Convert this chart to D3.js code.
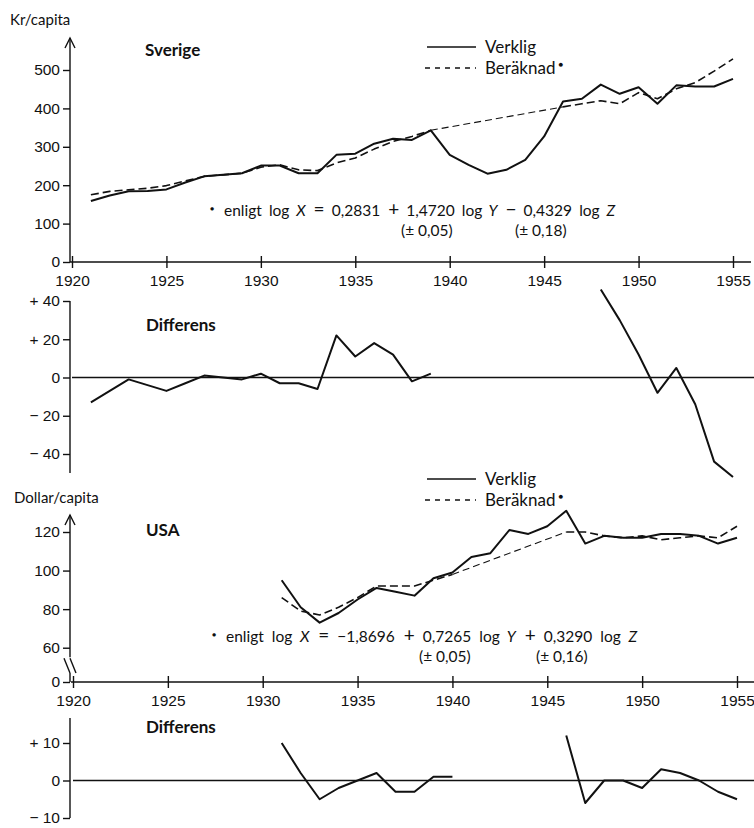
<!DOCTYPE html>
<html>
<head>
<meta charset="utf-8">
<script src="https://cdn.jsdelivr.net/npm/d3@7"></script>
<style>
  body { margin: 0; background: #fff; }
  svg { font-family: Lato, "Open Sans", sans-serif; }
  .axis text { font-size: 15.5px; fill: #111; }
  .axis line { stroke: #111; stroke-width: 1.4; }
</style>
</head>
<body>
<svg width="754" height="828"></svg>
<script>
// Data
const years = [1921, 1922, 1923, 1924, 1925, 1926, 1927, 1928, 1929, 1930, 1931, 1932,
  1933, 1934, 1935, 1936, 1937, 1938, 1939, 1940, 1941, 1942, 1943, 1944, 1945, 1946,
  1947, 1948, 1949, 1950, 1951, 1952, 1953, 1954, 1955];
const sverigeVerklig = [159, 173, 184, 185, 189, 207, 223, 227, 231, 251, 251, 231,
  231, 279, 282, 308, 321, 318, 343, 279, 253, 230, 240, 266, 327, 418,
  425, 462, 438, 455, 412, 460, 457, 457, 477];
const sverigeBeraknad = [175, 184, 188, 192, 199, 211, 223, 227, 231, 247, 253, 240,
  238, 258, 271, 294, 314, 327, 343, null, null, null, null, null, null, 404,
  412, 420, 412, 441, 425, 451, 467, 497, 529];
const sverigeDiff = [-13, -7, -1, -4, -7, -3, 1, 0, -1, 2, -3, -3,
  -6, 22, 11, 18, 12, -2, 2, null, null, null, null, null, null, null,
  null, 46, 30, 12, -8, 5, -14, -44, -52];

const usaYears = [1931, 1932, 1933, 1934, 1935, 1936, 1937, 1938, 1939, 1940, 1941, 1942,
  1943, 1944, 1945, 1946, 1947, 1948, 1949, 1950, 1951, 1952, 1953, 1954, 1955];
const usaVerklig = [95, 81, 73, 78, 85, 91, 89, 87, 96, 99, 107, 109,
  121, 119, 123, 131, 114, 118, 117, 117, 119, 119, 118, 114, 117];
const usaBeraknad = [86, 79, 77, 81, 86, 92, 92, 92, 95, 98, null, null,
  null, null, null, 120, 120, 118, 117, 118, 116, 117, 118, 117, 123];
const usaDiff = [10, 2, -5, -2, 0, 2, -3, -3, 1, 1, null, null,
  null, null, null, 12, -6, 0, 0, -2, 3, 2, 0, -3, -5];

const yearTicks = [1920, 1925, 1930, 1935, 1940, 1945, 1950, 1955];
const sverigeTicks = [0, 100, 200, 300, 400, 500];
const sverigeDiffTicks = [-40, -20, 0, 20, 40];
const usaTicks = [0, 60, 80, 100, 120];
const usaDiffTicks = [-10, 0, 10];

const ink = "#111";
let svg = d3.select("svg");

// scales
let xSve = d3.scaleLinear().domain([1920, 1955]).range([72, 733]);
let ySve = d3.scaleLinear().domain([0, 500]).range([262, 70]);
let yDiffSve = d3.scaleLinear().domain([-40, 40]).range([454, 301]);
let xUsa = d3.scaleLinear().domain([1920, 1955]).range([73, 737]);
// broken axis: 0 sits just under the 50 mark
let yUsa = d3.scaleLinear().domain([0, 50, 120]).range([682, 667, 532]);
let yDiffUsa = d3.scaleLinear().domain([-10, 10]).range([818, 743]);

function pairs(xs, vs) {
  return xs.map(function(x, i) { return { x: x, v: vs[i] }; });
}

function signed(d) {
  if (d > 0) return "+ " + d;
  if (d < 0) return "\u2212 " + Math.abs(d);
  return "0";
}

function xAxis(x, y0) {
  let g = svg.append("g")
    .attr("class", "axis")
    .attr("transform", "translate(0," + y0 + ")")
    .call(d3.axisBottom(x).tickValues(yearTicks).tickFormat(d3.format("d")).tickSize(6).tickPadding(7));
  g.select(".domain").remove();
  g.selectAll(".tick line").attr("y1", -6);
  g.append("line")
    .attr("x1", x.range()[0] - 2)
    .attr("x2", x.range()[1] + 18)
    .attr("stroke", ink)
    .attr("stroke-width", 1.6);
}

function yAxis(y, ticks, fmt, top, bottom) {
  let g = svg.append("g")
    .attr("class", "axis")
    .attr("transform", "translate(70,0)")
    .call(d3.axisLeft(y).tickValues(ticks).tickFormat(fmt).tickSize(7).tickPadding(3));
  g.select(".domain").remove();
  g.append("line")
    .attr("y1", top)
    .attr("y2", bottom)
    .attr("stroke", ink)
    .attr("stroke-width", 1.6);
  return g;
}

function arrow(g, top) {
  g.append("path")
    .attr("d", "M-5," + (top + 10) + "L0," + top + "L5," + (top + 10))
    .attr("fill", "none")
    .attr("stroke", ink)
    .attr("stroke-width", 1.4);
}

function zeroLine(x, y) {
  svg.append("line")
    .attr("x1", x.range()[0])
    .attr("x2", 754)
    .attr("y1", y(0))
    .attr("y2", y(0))
    .attr("stroke", ink)
    .attr("stroke-width", 1.3);
}

function drawLine(pts, x, y, dash, width) {
  let line = d3.line()
    .defined(function(d) { return d.v != null; })
    .x(function(d) { return x(d.x); })
    .y(function(d) { return y(d.v); });
  svg.append("path")
    .datum(pts)
    .attr("d", line)
    .attr("fill", "none")
    .attr("stroke", ink)
    .attr("stroke-width", width)
    .attr("stroke-linejoin", "round")
    .attr("stroke-dasharray", dash);
}

// the calculated series is bridged over the war years by a thin straight line
function drawBridge(pts, x, y) {
  for (let i = 0; i < pts.length - 1; i++) {
    if (pts[i].v != null && pts[i + 1].v == null) {
      let j = i + 1;
      while (j < pts.length && pts[j].v == null) j++;
      if (j < pts.length) {
        svg.append("line")
          .attr("x1", x(pts[i].x)).attr("y1", y(pts[i].v))
          .attr("x2", x(pts[j].x)).attr("y2", y(pts[j].v))
          .attr("stroke", ink)
          .attr("stroke-width", 1.1)
          .attr("stroke-dasharray", "7,4");
      }
    }
  }
}

function label(x, y, text, size, weight) {
  svg.append("text")
    .attr("x", x)
    .attr("y", y)
    .attr("font-size", size)
    .attr("font-weight", weight || "normal")
    .attr("fill", ink)
    .text(text);
}

function legend(y0) {
  svg.append("line").attr("x1", 427).attr("x2", 476).attr("y1", y0).attr("y2", y0)
    .attr("stroke", ink).attr("stroke-width", 1.6);
  label(485, y0 + 6, "Verklig", 17);
  svg.append("line").attr("x1", 425).attr("x2", 476).attr("y1", y0 + 21).attr("y2", y0 + 21)
    .attr("stroke", ink).attr("stroke-width", 1.4).attr("stroke-dasharray", "5,5");
  let t = svg.append("text").attr("x", 485).attr("y", y0 + 27).attr("font-size", 17).attr("fill", ink);
  t.append("tspan").text("Beräknad");
  t.append("tspan").attr("font-size", 8).attr("dx", 3).attr("dy", -7).text("\u25CF");
}

// one line of text, spaced out so that it spans the same width as in the original
function formula(x0, x1, y0, parts, errs) {
  svg.append("text").attr("x", x0 - 2).attr("y", y0 - 5)
    .attr("font-size", 7).attr("fill", ink).text("\u25CF");
  let t = svg.append("text").attr("x", x0 + 12).attr("y", y0)
    .attr("font-size", 15.5).attr("fill", ink).style("white-space", "pre");
  parts.forEach(function(p, i) {
    let s = t.append("tspan").text((i > 0 ? " " : "") + p.t);
    if (p.italic) s.attr("font-style", "italic");
    if (p.op) s.attr("font-size", 19);
  });
  let w = t.node().getComputedTextLength();
  t.attr("word-spacing", (x1 - x0 - 12 - w) / (parts.length - 1));
  errs.forEach(function(e) {
    label(e.x, y0 + 20, e.t, 15.5);
  });
}

// ---------- Sverige ----------
xAxis(xSve, ySve(0));
let gs = yAxis(ySve, sverigeTicks, d3.format("d"), 38, ySve(0));
arrow(gs, 38);
label(10, 25, "Kr/capita", 15);
label(145, 56, "Sverige", 17, "bold");
legend(47);

drawBridge(pairs(years, sverigeBeraknad), xSve, ySve);
drawLine(pairs(years, sverigeBeraknad), xSve, ySve, "8,4", 1.6);
drawLine(pairs(years, sverigeVerklig), xSve, ySve, null, 2);

formula(212, 615, 216, [
  { t: "enligt" }, { t: "log" }, { t: "X", italic: true }, { t: "=", op: true },
  { t: "0,2831" }, { t: "+", op: true }, { t: "1,4720" }, { t: "log" },
  { t: "Y", italic: true }, { t: "\u2212", op: true }, { t: "0,4329" }, { t: "log" },
  { t: "Z", italic: true }
], [{ x: 401, t: "(\u00B1 0,05)" }, { x: 515, t: "(\u00B1 0,18)" }]);

// ---------- Differens Sverige ----------
yAxis(yDiffSve, sverigeDiffTicks, signed, yDiffSve(40), 473);
zeroLine(xSve, yDiffSve);
label(146, 331, "Differens", 17, "bold");
drawLine(pairs(years, sverigeDiff), xSve, yDiffSve, null, 2);

// ---------- USA ----------
xAxis(xUsa, yUsa(0));
let gu = yAxis(yUsa, usaTicks, d3.format("d"), 515, yUsa(55));
arrow(gu, 515);
gu.append("line").attr("y1", yUsa(0) - 9).attr("y2", yUsa(0)).attr("stroke", ink).attr("stroke-width", 1.6);
// axis break
[-3, 3].forEach(function(dx) {
  gu.append("line")
    .attr("x1", dx - 3).attr("y1", yUsa(55) + 1)
    .attr("x2", dx + 3).attr("y2", yUsa(0) - 9)
    .attr("stroke", ink).attr("stroke-width", 1.3);
});
label(14, 503, "Dollar/capita", 15);
label(146, 536, "USA", 17, "bold");
legend(479);

drawBridge(pairs(usaYears, usaBeraknad), xUsa, yUsa);
drawLine(pairs(usaYears, usaBeraknad), xUsa, yUsa, "8,4", 1.6);
drawLine(pairs(usaYears, usaVerklig), xUsa, yUsa, null, 2);

formula(214, 637, 642, [
  { t: "enligt" }, { t: "log" }, { t: "X", italic: true }, { t: "=", op: true },
  { t: "\u22121,8696" }, { t: "+", op: true }, { t: "0,7265" }, { t: "log" },
  { t: "Y", italic: true }, { t: "+", op: true }, { t: "0,3290" }, { t: "log" },
  { t: "Z", italic: true }
], [{ x: 419, t: "(\u00B1 0,05)" }, { x: 536, t: "(\u00B1 0,16)" }]);

// ---------- Differens USA ----------
yAxis(yDiffUsa, usaDiffTicks, signed, 718, yDiffUsa(-10));
zeroLine(xUsa, yDiffUsa);
label(146, 733, "Differens", 17, "bold");
drawLine(pairs(usaYears, usaDiff), xUsa, yDiffUsa, null, 2);
</script>
</body>
</html>
